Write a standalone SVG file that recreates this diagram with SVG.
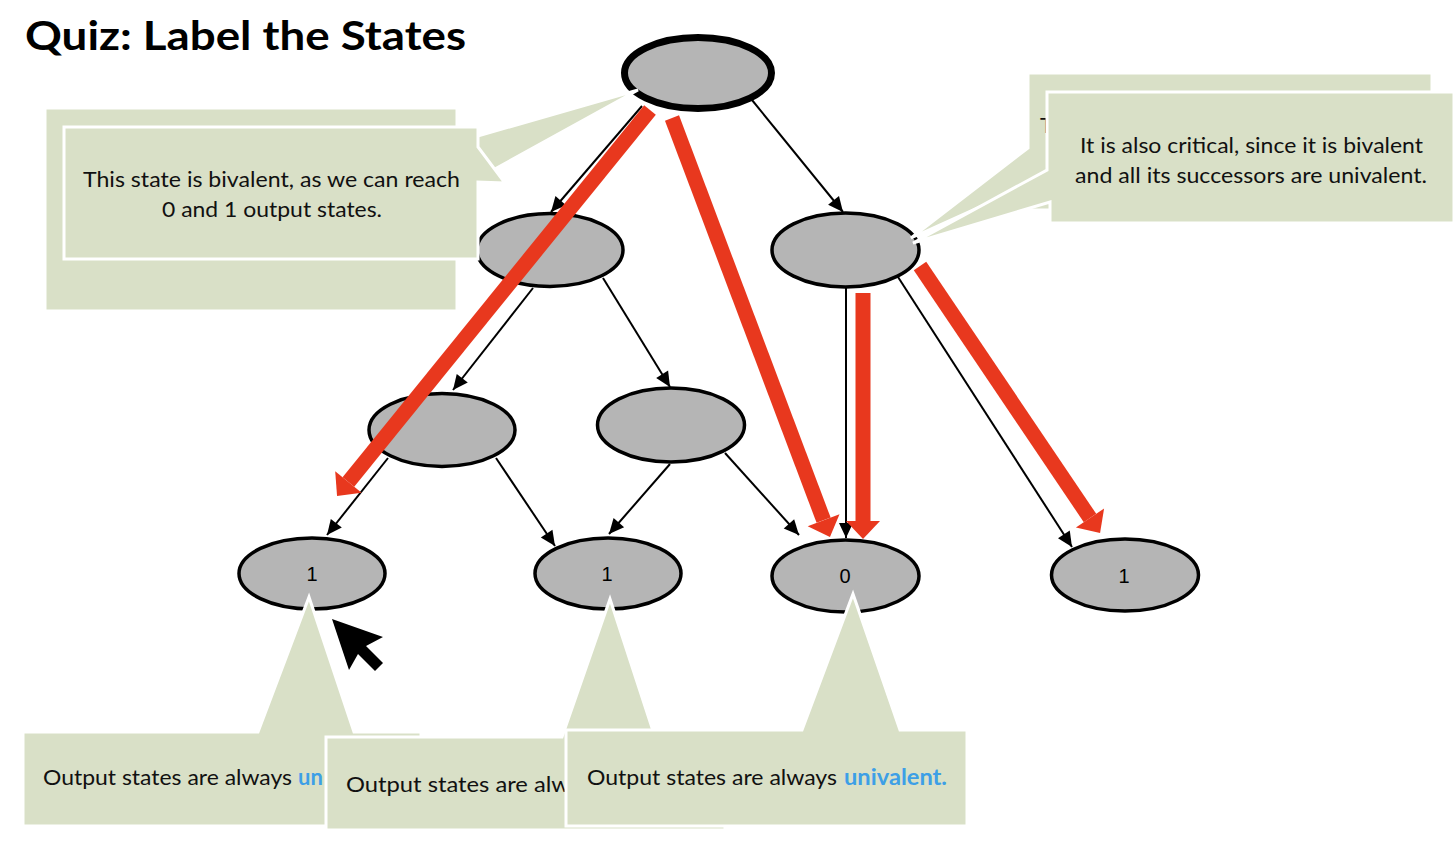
<svg xmlns="http://www.w3.org/2000/svg" width="1456" height="849" viewBox="0 0 1456 849">
  <style>
    .node { fill: #b5b5b5; stroke: #000; stroke-width: 3.5; }
    .root { stroke-width: 7; }
    .lbl { font-family: "Liberation Sans", Arial, sans-serif; font-size: 20px; fill: #000; text-anchor: middle; }
    .edge { stroke: #000; stroke-width: 2; fill: none; marker-end: url(#head); }
    .path { stroke: #e8381e; stroke-width: 15; fill: none; marker-end: url(#redhead); }
    .callout { fill: #d9e0c7; stroke: #fff; stroke-width: 3; stroke-linejoin: miter; }
    .txt { font-family: Lato, "Open Sans", sans-serif; font-size: 22px; fill: #111; }
    .hl { fill: #3d9fe6; font-weight: bold; }
    .title { font-family: Lato, "Open Sans", sans-serif; font-weight: bold; font-size: 40px; fill: #000; }
  </style>
  <defs>
    <marker id="head" markerUnits="userSpaceOnUse" markerWidth="16" markerHeight="14" refX="15" refY="7" orient="auto" overflow="visible">
      <path d="M0,0 L15,7 L0,14 Z" fill="#000"/>
    </marker>
    <marker id="redhead" markerUnits="userSpaceOnUse" markerWidth="20" markerHeight="36" refX="0" refY="17" orient="auto" overflow="visible">
      <path d="M0,0 L18,17 L0,34 Z" fill="#e8381e"/>
    </marker>
  </defs>

  <rect width="1456" height="849" fill="#fff"/>

  <text class="title" x="25" y="50" textLength="441" lengthAdjust="spacingAndGlyphs">Quiz: Label the States</text>

  <!-- transitions between states -->
  <g id="connectors">
    <line class="edge" x1="642" y1="106" x2="551" y2="212"/>
    <line class="edge" x1="752" y1="100" x2="843" y2="212"/>
    <line class="edge" x1="533" y1="288" x2="453" y2="390"/>
    <line class="edge" x1="603" y1="278" x2="670" y2="387"/>
    <line class="edge" x1="388" y1="458" x2="327" y2="535"/>
    <line class="edge" x1="496" y1="458" x2="555" y2="546"/>
    <line class="edge" x1="670" y1="464" x2="609" y2="534"/>
    <line class="edge" x1="725" y1="453" x2="799" y2="535"/>
    <line class="edge" x1="846" y1="288" x2="846" y2="538"/>
    <line class="edge" x1="898" y1="277" x2="1072" y2="547"/>
  </g>

  <!-- states -->
  <g id="state-root"><ellipse class="node root" cx="698" cy="73" rx="73.5" ry="35.5"/></g>
  <g id="state-a"><ellipse class="node" cx="550" cy="250" rx="73" ry="36.5"/></g>
  <g id="state-b"><ellipse class="node" cx="845.5" cy="250" rx="73.5" ry="37"/></g>
  <g id="state-c"><ellipse class="node" cx="442" cy="430" rx="73" ry="36.5"/></g>
  <g id="state-d"><ellipse class="node" cx="671" cy="425" rx="73.5" ry="37"/></g>
  <g id="out-1a"><ellipse class="node" cx="312" cy="573.5" rx="73" ry="35.5"/><text class="lbl" x="312" y="580.5">1</text></g>
  <g id="out-1b"><ellipse class="node" cx="608" cy="573.5" rx="73" ry="35.5"/><text class="lbl" x="607" y="580.5">1</text></g>
  <g id="out-0"><ellipse class="node" cx="845.5" cy="576" rx="73.5" ry="36"/><text class="lbl" x="845" y="583">0</text></g>
  <g id="out-1c"><ellipse class="node" cx="1125" cy="575" rx="73.5" ry="36"/><text class="lbl" x="1124" y="583">1</text></g>

  <!-- highlighted execution paths -->
  <g id="paths">
    <line class="path" x1="650" y1="110" x2="348.4" y2="482"/>
    <line class="path" x1="672" y1="118" x2="823.6" y2="520.2"/>
    <line class="path" x1="863" y1="293" x2="863" y2="521"/>
    <line class="path" x1="920" y1="266" x2="1090" y2="518"/>
  </g>

  <!-- callout on the initial state -->
  <g id="callout-bivalent">
    <path class="callout" d="M45,108 H457 V142 L638,90 L457,190 V311 H45 Z"/>
    <path class="callout" d="M64,127 H478 V147 L505,183 L478,182 V259 H64 Z"/>
    <text class="txt" x="83" y="187" textLength="377" lengthAdjust="spacingAndGlyphs">This state is bivalent, as we can reach</text>
    <text class="txt" x="162" y="217" textLength="220" lengthAdjust="spacingAndGlyphs">0 and 1 output states.</text>
  </g>

  <!-- callout on the critical state -->
  <g id="callout-critical">
    <path class="callout" d="M1028,73 H1432 V210 H1028 V185 L911,238 L1028,148 Z"/>
    <text class="txt" x="1040" y="133">T</text>
    <path class="callout" d="M1047,92 H1454 V223 H1050 V202 L913,243 L1047,170 Z"/>
    <text class="txt" x="1080" y="153" textLength="343" lengthAdjust="spacingAndGlyphs">It is also critical, since it is bivalent</text>
    <text class="txt" x="1075" y="183" textLength="352" lengthAdjust="spacingAndGlyphs">and all its successors are univalent.</text>
  </g>

  <!-- callouts on the output states -->
  <g id="callout-out-1a">
    <path class="callout" d="M23,732 H258 L309,597 L354,732 H421 V826 H23 Z"/>
    <text class="txt" x="43" y="785" textLength="249" lengthAdjust="spacingAndGlyphs">Output states are always</text>
    <text class="txt hl" x="298" y="785">un</text>
  </g>
  <g id="callout-out-1b">
    <path class="callout" d="M326,737 H562 L610,599 L655,737 H725 V830 H326 Z"/>
    <text class="txt" x="346" y="792" textLength="224" lengthAdjust="spacingAndGlyphs">Output states are alw</text>
  </g>
  <g id="callout-out-0">
    <path class="callout" d="M566,730 H802 L853,594 L900,730 H967 V826 H566 Z"/>
    <text class="txt" x="587" y="785" textLength="250" lengthAdjust="spacingAndGlyphs">Output states are always</text>
    <text class="txt hl" x="844" y="785" textLength="103" lengthAdjust="spacingAndGlyphs">univalent.</text>
  </g>

  <!-- mouse pointer -->
  <g id="pointer">
    <polygon points="332,619 383,637 366,646 383,663 375,671 358,654 349,670" fill="#000"/>
  </g>
</svg>
